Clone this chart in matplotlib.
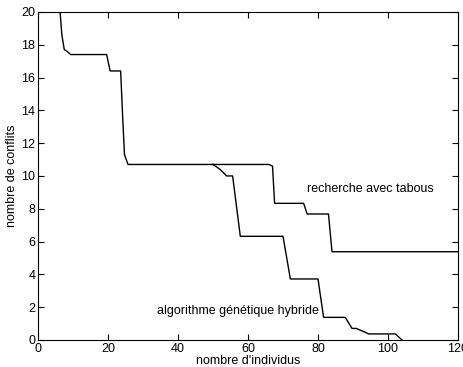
import matplotlib
matplotlib.use('Agg')
import matplotlib.pyplot as plt

# partie commune aux deux courbes
common_x = [6.3, 6.8, 7.5, 8.3, 9.3, 19.6, 20.6, 23.6, 24.2, 24.7, 25.7, 50.0]
common_y = [20.0, 18.6, 17.7, 17.6, 17.4, 17.4, 16.4, 16.4, 13.5, 11.3, 10.7, 10.7]

# recherche avec tabous
tabu_x = [50.0, 66.0, 67.0, 67.6, 75.9, 76.9, 83.0, 84.0, 120.0]
tabu_y = [10.7, 10.7, 10.6, 8.33, 8.33, 7.68, 7.68, 5.38, 5.38]

# algorithme génétique hybride
hyb_x = [50.0, 52.0, 53.9, 55.6, 57.8, 70.0, 72.1, 80.0, 81.6, 87.8, 89.7, 91.0, 94.5, 102.1, 104.0]
hyb_y = [10.7, 10.4, 10.0, 10.0, 6.32, 6.32, 3.72, 3.72, 1.38, 1.38, 0.71, 0.7, 0.37, 0.37, 0.0]

plt.rcParams['font.family'] = ['Liberation Sans', 'DejaVu Sans']

fig = plt.figure(figsize=(4.64, 3.67), dpi=100)
ax = fig.add_axes([0.082, 0.0736, 0.905, 0.894])

ax.plot(common_x, common_y, color='black', linewidth=1.0)
ax.plot(tabu_x, tabu_y, color='black', linewidth=1.0)
ax.plot(hyb_x, hyb_y, color='black', linewidth=1.0)

ax.text(77, 9.2, 'recherche avec tabous', fontsize=9, va='center')
ax.text(34, 1.77, 'algorithme génétique hybride', fontsize=9, va='center')

ax.set_xlim(0, 120)
ax.set_ylim(0, 20)
ax.set_xticks(range(0, 121, 20))
ax.set_yticks(range(0, 21, 2))
ax.tick_params(direction='in', top=True, right=True, labelsize=9, length=4, pad=2)
ax.set_xlabel("nombre d'individus", fontsize=9, labelpad=0)
ax.set_ylabel('nombre de conflits', fontsize=9, labelpad=2)

fig.savefig('out.png', dpi=100)
